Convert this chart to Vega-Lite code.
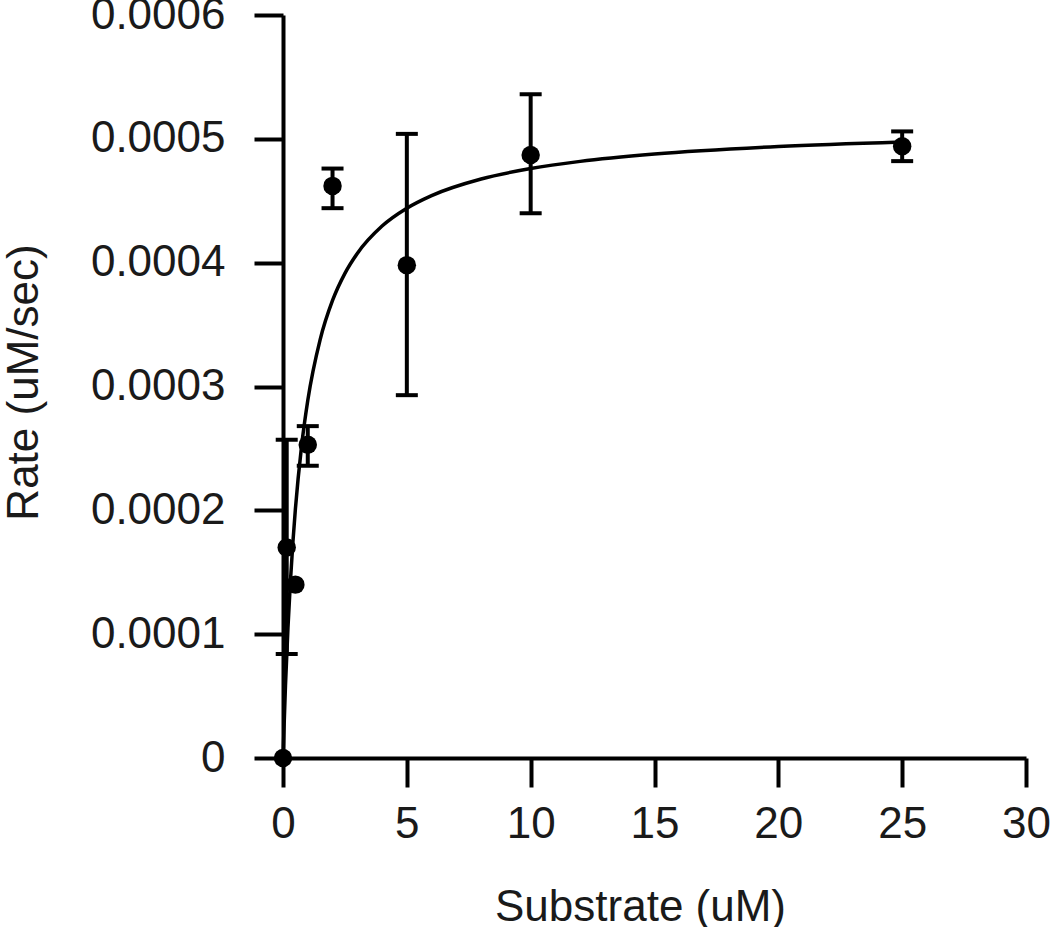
{
  "$schema": "https://vega.github.io/schema/vega-lite/v6.json",
  "width": 743,
  "height": 743,
  "autosize": {"type": "none"},
  "padding": {"left": 283, "top": 15, "right": 24, "bottom": 169},
  "background": "white",
  "config": {
    "view": {"stroke": null},
    "font": "Liberation Sans",
    "axis": {
      "grid": false,
      "domainColor": "black",
      "domainWidth": 4,
      "tickColor": "black",
      "tickWidth": 4,
      "tickSize": 29,
      "labelFlush": false,
      "labelFont": "Liberation Sans",
      "labelFontSize": 44,
      "labelColor": "#1a1a1a",
      "titleFont": "Liberation Sans",
      "titleFontSize": 44,
      "titleFontWeight": "normal",
      "titleColor": "#1a1a1a"
    }
  },
  "datasets": {
    "pts": [
      {"S": 0, "rate": 0, "lo": null, "hi": null},
      {"S": 0.15, "rate": 0.00017, "lo": 0.000084, "hi": 0.000257},
      {"S": 0.5, "rate": 0.00014, "lo": null, "hi": null},
      {"S": 1, "rate": 0.000253, "lo": 0.000236, "hi": 0.000268},
      {"S": 2, "rate": 0.000462, "lo": 0.000444, "hi": 0.000476},
      {"S": 5, "rate": 0.000398, "lo": 0.000293, "hi": 0.000504},
      {"S": 10, "rate": 0.000487, "lo": 0.00044, "hi": 0.000536},
      {"S": 25, "rate": 0.000494, "lo": 0.000482, "hi": 0.000506}
    ],
    "fit": [
      {"S": 0, "v": 0},
      {"S": 0.1, "v": 0.0000585},
      {"S": 0.2, "v": 0.000105},
      {"S": 0.3, "v": 0.0001429},
      {"S": 0.4, "v": 0.0001743},
      {"S": 0.5, "v": 0.0002009},
      {"S": 0.75, "v": 0.000252},
      {"S": 1, "v": 0.0002887},
      {"S": 1.5, "v": 0.0003379},
      {"S": 2, "v": 0.0003695},
      {"S": 2.5, "v": 0.0003914},
      {"S": 3, "v": 0.0004075},
      {"S": 4, "v": 0.0004296},
      {"S": 5, "v": 0.000444},
      {"S": 6, "v": 0.0004542},
      {"S": 8, "v": 0.0004676},
      {"S": 10, "v": 0.000476},
      {"S": 12, "v": 0.0004818},
      {"S": 15, "v": 0.0004877},
      {"S": 20, "v": 0.0004938},
      {"S": 25, "v": 0.0004975}
    ]
  },
  "layer": [
    {
      "data": {"name": "fit"},
      "mark": {"type": "line", "color": "black", "strokeWidth": 3.5, "interpolate": "monotone"},
      "encoding": {
        "x": {
          "field": "S", "type": "quantitative",
          "title": "Substrate (uM)",
          "scale": {"domain": [0, 30], "nice": false},
          "axis": {
            "values": [0, 5, 10, 15, 20, 25, 30],
            "format": "d",
            "labelBaseline": "alphabetic",
            "labelPadding": 50,
            "titleX": 357,
            "titleY": 162,
            "titleBaseline": "alphabetic"
          }
        },
        "y": {
          "field": "v", "type": "quantitative",
          "title": "Rate (uM/sec)",
          "scale": {"domain": [0, 0.0006], "nice": false},
          "axis": {
            "values": [0, 0.0001, 0.0002, 0.0003, 0.0004, 0.0005, 0.0006],
            "format": ".4~f",
            "labelPadding": 29,
            "titleX": -246,
            "titleY": 367,
            "titleBaseline": "alphabetic"
          }
        }
      }
    },
    {
      "data": {"name": "pts"},
      "transform": [{"filter": "isValid(datum.lo)"}],
      "mark": {"type": "errorbar", "ticks": {"color": "black", "opacity": 1}, "rule": {"color": "black", "opacity": 1}, "size": 22, "thickness": 4, "color": "black"},
      "encoding": {
        "x": {"field": "S", "type": "quantitative", "title": "Substrate (uM)"},
        "y": {"field": "lo", "type": "quantitative", "title": "Rate (uM/sec)"},
        "y2": {"field": "hi"}
      }
    },
    {
      "data": {"name": "pts"},
      "mark": {"type": "point", "shape": "circle", "filled": true, "color": "black", "opacity": 1, "size": 340},
      "encoding": {
        "x": {"field": "S", "type": "quantitative", "title": "Substrate (uM)"},
        "y": {"field": "rate", "type": "quantitative", "title": "Rate (uM/sec)"}
      }
    }
  ]
}
